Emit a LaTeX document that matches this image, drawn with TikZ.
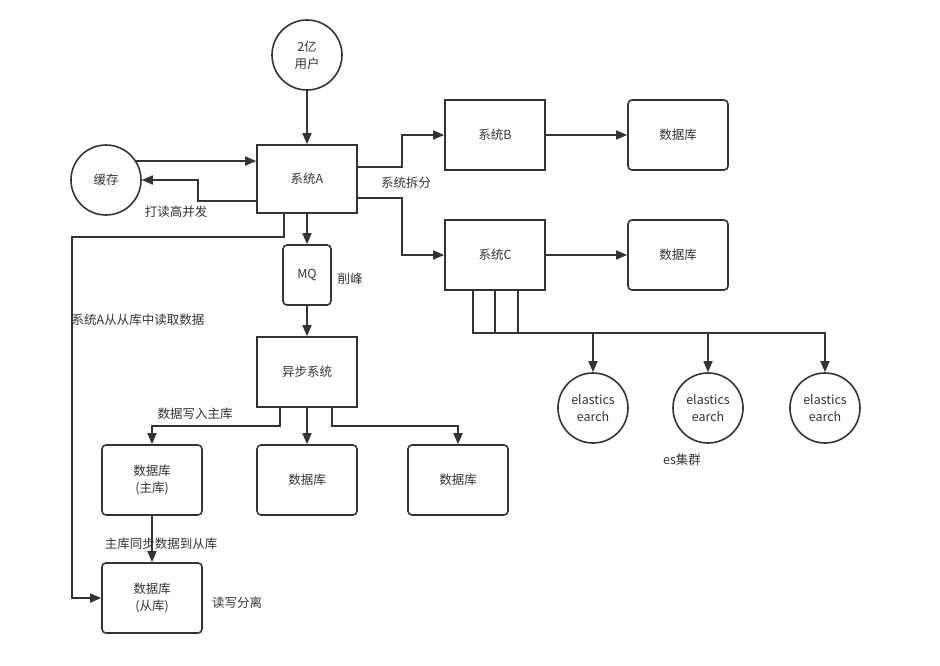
\documentclass[tikz,border=0pt]{standalone}
\usepackage{fontspec}
\setmainfont{Noto Sans CJK SC}
\usetikzlibrary{arrows.meta}
\definecolor{lc}{HTML}{333333}
\begin{document}
\begin{tikzpicture}[x=1pt,y=-1pt,
  txt/.style={text=lc, font=\fontsize{12.5}{17}\selectfont, align=center},
  box/.style={txt, draw=lc, line width=1.6pt, minimum width=100pt, minimum height=70pt, inner sep=0pt},
  rbox/.style={box, rounded corners=4pt},
  circ/.style={txt, circle, draw=lc, line width=1.6pt, minimum size=70pt, inner sep=0pt},
  plain/.style={draw=lc, line width=1.6pt},
  conn/.style={plain, -{Triangle[length=11pt,width=9pt]}},
  lbl/.style={txt, inner sep=0pt}]
\useasboundingbox (0,0) rectangle (940,665);
% nodes
\node[circ] (user) at (307,55) {2亿\\用户};
\node[box, minimum height=68pt] (A) at (307,179) {系统A};
\node[circ] (cache) at (106,180) {缓存};
\node[rbox, minimum width=48pt, minimum height=60pt] (MQ) at (307,275) {MQ};
\node[box] (async) at (307,372) {异步系统};
\node[rbox] (db1) at (152,480) {数据库\\(主库)};
\node[rbox] (db2) at (307,480) {数据库};
\node[rbox] (db3) at (458,480) {数据库};
\node[rbox] (slave) at (152,598) {数据库\\(从库)};
\node[box] (B) at (495,135) {系统B};
\node[rbox] (dbB) at (678,135) {数据库};
\node[box] (C) at (495,255) {系统C};
\node[rbox] (dbC) at (678,255) {数据库};
\node[circ] (es1) at (593,408) {elastics\\earch};
\node[circ] (es2) at (708,408) {elastics\\earch};
\node[circ] (es3) at (825,408) {elastics\\earch};
% labels
\node[lbl] (l1) at (176,212) {打读高并发};
\node[lbl] (l2) at (138,320) {系统A从从库中读取数据};
\node[lbl] (l3) at (350,279) {削峰};
\node[lbl] (l4) at (195,414) {数据写入主库};
\node[lbl] (l5) at (161,544) {主库同步数据到从库};
\node[lbl] (l6) at (237,603) {读写分离};
\node[lbl] (l7) at (406,183) {系统拆分};
\node[lbl] (l8) at (682,460) {es集群};
% connectors
\draw[conn] (user) -- (A);
\draw[conn] (cache.32) -- (cache.32 -| A.west);
\draw[conn] ([yshift=-22pt]A.west) -- ++(-58,0) |- (cache.east);
\draw[conn] ([yshift=12pt]A.east) -- ++(44,0) |- (B.west);
\draw[conn] ([yshift=-19pt]A.east) -- ++(44,0) |- (C.west);
\draw[conn] (B.east) -- (dbB.west);
\draw[conn] (C.east) -- (dbC.west);
\draw[conn] ([xshift=-23pt]A.south) -- ++(0,23) -- ++(-212,0) |- (slave.west);
\draw[conn] (A.south) -- (MQ.north);
\draw[conn] (MQ.south) -- (async.north);
\draw[conn] ([xshift=-27pt]async.south) -- ++(0,18) -| (db1.north);
\draw[conn] (async.south) -- (db2.north);
\draw[conn] ([xshift=25pt]async.south) -- ++(0,18) -| (db3.north);
\draw[conn] (db1.south) -- (slave.north);
\draw[conn] ([xshift=-22pt]C.south) -- ++(0,42) -| (es3.north);
\draw[conn] (C.south) -- ++(0,42) -| (es2.north);
\draw[conn] ([xshift=23pt]C.south) -- ++(0,42) -| (es1.north);
\end{tikzpicture}
\end{document}
